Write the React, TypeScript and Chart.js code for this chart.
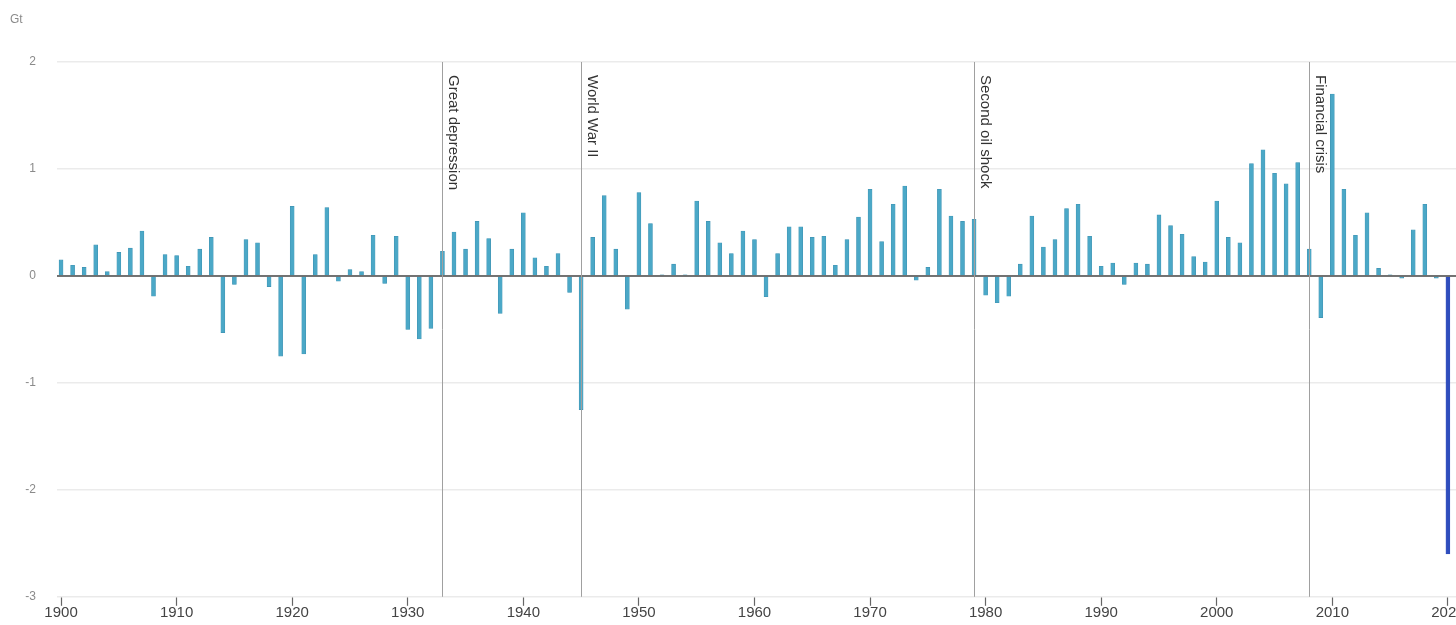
import React, { useEffect, useRef } from "react";
import { Chart, registerables } from "chart.js";

Chart.register(...registerables);

const years: number[] = [];
for (let y = 1900; y <= 2020; y++) years.push(y);

const changes: number[] = [
  0.15, 0.10, 0.08, 0.29, 0.04, 0.22, 0.26, 0.42, -0.19, 0.20,
  0.19, 0.09, 0.25, 0.36, -0.53, -0.08, 0.34, 0.31, -0.10, -0.75,
  0.65, -0.73, 0.20, 0.64, -0.05, 0.06, 0.04, 0.38, -0.07, 0.37,
  -0.50, -0.59, -0.49, 0.23, 0.41, 0.25, 0.51, 0.35, -0.35, 0.25,
  0.59, 0.17, 0.09, 0.21, -0.155, -1.25, 0.36, 0.75, 0.25, -0.31,
  0.78, 0.49, 0.01, 0.11, 0.01, 0.70, 0.51, 0.31, 0.21, 0.42,
  0.34, -0.195, 0.21, 0.46, 0.46, 0.36, 0.37, 0.10, 0.34, 0.55,
  0.81, 0.32, 0.67, 0.84, -0.04, 0.08, 0.81, 0.56, 0.51, 0.53,
  -0.18, -0.25, -0.19, 0.11, 0.56, 0.27, 0.34, 0.63, 0.67, 0.37,
  0.09, 0.12, -0.08, 0.12, 0.11, 0.57, 0.47, 0.39, 0.18, 0.13,
  0.70, 0.36, 0.31, 1.05, 1.18, 0.96, 0.86, 1.06, 0.25, -0.39,
  1.70, 0.81, 0.38, 0.59, 0.07, 0.01, -0.02, 0.43, 0.67, -0.02,
  -2.6,
];

const eventYears: number[] = [1933, 1945, 1979, 2008];
const eventLabels: string[] = ["Great depression", "World War II", "Second oil shock", "Financial crisis"];

const xTickYears: number[] = [1900, 1910, 1920, 1930, 1940, 1950, 1960, 1970, 1980, 1990, 2000, 2010, 2020];
const yTicks: number[] = [-3, -2, -1, 0, 1, 2];
const unitLabel = "Gt";

const BAR_COLOR = "#4ba8c7";
const BAR_BORDER = "#3f93b3";
const HIGHLIGHT_COLOR = "#2f4dbd";

const overlayPlugin = {
  id: "overlay",
  afterDatasetsDraw(chart: any) {
    const { ctx, chartArea, scales } = chart;
    const xs = scales.x;
    const ys = scales.y;
    ctx.save();
    // zero line
    const y0 = ys.getPixelForValue(0);
    ctx.strokeStyle = "#4a4a4a";
    ctx.lineWidth = 1.5;
    ctx.beginPath();
    ctx.moveTo(chartArea.left, y0);
    ctx.lineTo(chartArea.right, y0);
    ctx.stroke();
    // event lines
    eventYears.forEach((yr, i) => {
      const x = Math.round(xs.getPixelForValue(yr)) + 0.5;
      ctx.strokeStyle = "#a0a0a0";
      ctx.lineWidth = 1;
      ctx.beginPath();
      ctx.moveTo(x, chartArea.top);
      ctx.lineTo(x, chartArea.bottom);
      ctx.stroke();
      ctx.save();
      ctx.translate(x + 3, chartArea.top + 13);
      ctx.rotate(Math.PI / 2);
      ctx.fillStyle = "#333";
      ctx.font = "15px 'Liberation Sans', Arial, sans-serif";
      ctx.textAlign = "left";
      ctx.textBaseline = "bottom";
      ctx.fillText(eventLabels[i], 0, 0);
      ctx.restore();
    });
    // unit label
    ctx.fillStyle = "#8a8a8a";
    ctx.font = "12px 'Liberation Sans', Arial, sans-serif";
    ctx.textAlign = "left";
    ctx.textBaseline = "middle";
    ctx.fillText(unitLabel, chartArea.left - 47, chartArea.top - 42);
    ctx.restore();
  },
};

export default function App() {
  const canvasRef = useRef<HTMLCanvasElement | null>(null);

  useEffect(() => {
    if (!canvasRef.current) return;
    const data = years.map((yr, i) => ({ x: yr, y: changes[i] }));
    const chart = new Chart(canvasRef.current, {
      type: "bar",
      data: {
        datasets: [
          {
            data: data as any,
            backgroundColor: years.map((yr) => (yr === 2020 ? HIGHLIGHT_COLOR : BAR_COLOR)),
            borderColor: years.map((yr) => (yr === 2020 ? HIGHLIGHT_COLOR : BAR_BORDER)),
            borderWidth: 0.6,
            barThickness: 4,
          },
        ],
      },
      options: {
        animation: false,
        responsive: true,
        maintainAspectRatio: false,
        layout: { padding: { top: 62, left: 0, right: 0, bottom: 0 } },
        plugins: {
          legend: { display: false },
          tooltip: { enabled: false },
        },
        scales: {
          x: {
            type: "linear",
            offset: false,
            min: 1899.65,
            max: 2020.7,
            afterBuildTicks: (scale: any) => {
              scale.ticks = xTickYears.map((v) => ({ value: v }));
            },
            afterFit: (scale: any) => {
              scale.paddingLeft = 0;
              scale.paddingRight = 0;
            },
            ticks: {
              autoSkip: false,
              maxRotation: 0,
              padding: 0,
              color: "#444",
              font: { family: "'Liberation Sans', Arial, sans-serif", size: 15, lineHeight: 1 },
              callback: (v: any) => String(v),
            },
            grid: {
              display: true,
              offset: false,
              drawOnChartArea: false,
              drawTicks: true,
              tickLength: 9,
              tickColor: "#666",
              tickWidth: 1.2,
            },
            border: { display: false },
          },
          y: {
            min: -3,
            max: 2,
            afterBuildTicks: (scale: any) => {
              scale.ticks = yTicks.map((v) => ({ value: v }));
            },
            afterFit: (scale: any) => {
              scale.width = 57;
            },
            ticks: {
              color: "#8a8a8a",
              padding: 21,
              font: { family: "'Liberation Sans', Arial, sans-serif", size: 12 },
            },
            grid: {
              color: "#ebebeb",
              lineWidth: 1.5,
              drawTicks: false,
            },
            border: { display: false },
          },
        },
      },
      plugins: [overlayPlugin],
    });
    return () => chart.destroy();
  }, []);

  return (
    <div style={{ position: "fixed", left: 0, top: 0, width: "1456px", height: "625px", background: "#fff" }}>
      <canvas ref={canvasRef} />
    </div>
  );
}
